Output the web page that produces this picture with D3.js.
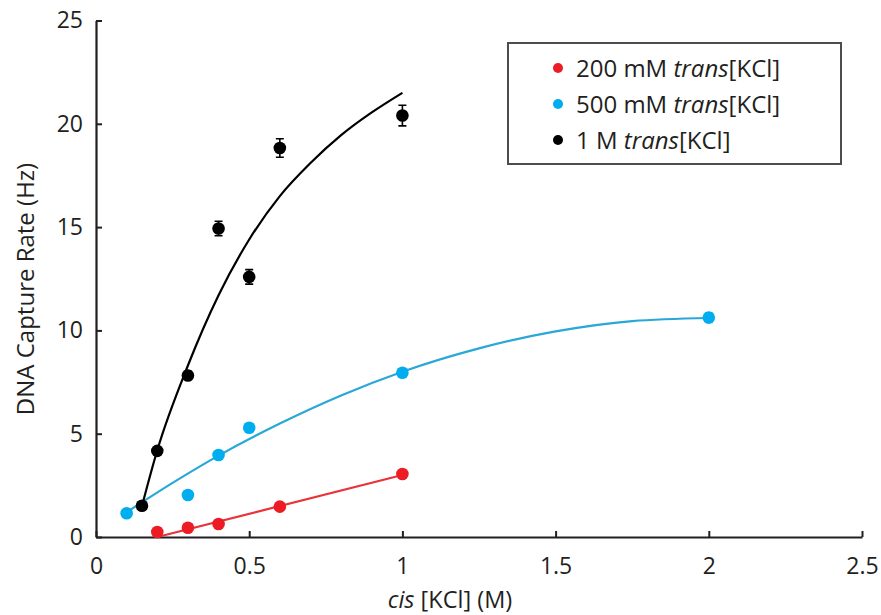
<!DOCTYPE html>
<html lang="en">
<head>
  <meta charset="utf-8">
  <title>DNA capture rate</title>
  <script src="https://d3js.org/d3.v7.min.js"></script>
  <style>
  body { margin: 0; background: #fff; }
  text { font-family: "Open Sans", "Noto Sans", sans-serif; fill: #231f20; }
  .axis path, .axis line { stroke: #231f20; }
  </style>
</head>
<body>
  <script>
  // measured points, cis [KCl] (M) vs capture rate (Hz)
  var redX = [0.2, 0.3, 0.4, 0.6, 1.0];
  var redY = [0.24, 0.45, 0.63, 1.47, 3.05];
  var redErr = [0.05, 0.05, 0.05, 0.08, 0.1];

  var blueX = [0.1, 0.3, 0.4, 0.5, 1.0, 2.0];
  var blueY = [1.15, 2.03, 3.97, 5.29, 7.95, 10.62];
  var blueErr = [0.05, 0.08, 0.1, 0.12, 0.15, 0.22];

  var blackX = [0.15, 0.2, 0.3, 0.4, 0.5, 0.6, 1.0];
  var blackY = [1.51, 4.17, 7.82, 14.93, 12.59, 18.83, 20.4];
  var blackErr = [0.1, 0.15, 0.2, 0.35, 0.35, 0.45, 0.5];

  // fit curves
  var redFitX = [0.2, 1.0];
  var redFitY = [0.0, 3.0];
  var blueFitX = [0.1, 0.25, 0.4, 0.6, 0.8, 1.0, 1.25, 1.5, 1.75, 2.0];
  var blueFitY = [1.2, 2.62, 3.94, 5.49, 6.85, 8.0, 9.13, 9.95, 10.45, 10.6];
  var blackFitX = [0.15, 0.2, 0.3, 0.4, 0.5, 0.6, 0.7, 0.8, 0.9, 1.0];
  var blackFitY = [1.5, 4.2, 8.3, 11.7, 14.4, 16.5, 18.1, 19.45, 20.55, 21.5];

  var legendNames = ["200 mM", "500 mM", "1 M"];
  var xTicks = [0, 0.5, 1, 1.5, 2, 2.5];
  var yTicks = [0, 5, 10, 15, 20, 25];

  var width = 881;
  var height = 615;
  var dotColor = ["#ed1c24", "#00aeef", "#000000"];
  var lineColor = ["#e8333a", "#29a8d8", "#000000"];

  var svg = d3.select("body")
    .append("svg")
    .attr("width", width)
    .attr("height", height);

  var x = d3.scaleLinear().domain([0, 2.5]).range([96, 862]);
  var y = d3.scaleLinear().domain([0, 25]).range([537, 20.5]);

  // axes, ticks pointing inward
  var xAxis = svg.append("g")
    .attr("class", "axis")
    .attr("transform", "translate(0," + y(0) + ")")
    .call(d3.axisBottom(x).tickValues(xTicks).tickSizeInner(-6).tickSizeOuter(0)
      .tickFormat(function(d) { return d; }));
  xAxis.select(".domain").attr("stroke-width", 2.2);
  xAxis.selectAll(".tick line").attr("stroke-width", 2);
  xAxis.selectAll(".tick text").attr("font-size", 23).attr("dy", "1.0em").attr("y", 14);

  var yAxis = svg.append("g")
    .attr("class", "axis")
    .attr("transform", "translate(" + x(0) + ",0)")
    .call(d3.axisLeft(y).tickValues(yTicks).tickSizeInner(-6).tickSizeOuter(0));
  yAxis.select(".domain").attr("stroke-width", 2.2);
  yAxis.selectAll(".tick text").attr("font-size", 23).attr("x", -13);
  yAxis.selectAll(".tick line").attr("stroke-width", 2);

  // axis titles
  svg.append("text")
    .attr("transform", "translate(34,289) rotate(-90)")
    .attr("text-anchor", "middle")
    .attr("font-size", 24)
    .text("DNA Capture Rate (Hz)");

  var xt = svg.append("text")
    .attr("x", 450)
    .attr("y", 608)
    .attr("text-anchor", "middle")
    .attr("font-size", 23.5);
  xt.append("tspan").attr("font-style", "italic").text("cis");
  xt.append("tspan").text(" [KCl] (M)");

  // fit lines
  var line = d3.line().curve(d3.curveMonotoneX)
    .x(function(d) { return x(d[0]); })
    .y(function(d) { return y(d[1]); });

  var fits = [d3.zip(redFitX, redFitY), d3.zip(blueFitX, blueFitY), d3.zip(blackFitX, blackFitY)];
  svg.append("g").selectAll("path")
    .data(fits)
    .enter()
    .append("path")
    .attr("fill", "none")
    .attr("stroke", function(d, i) { return lineColor[i]; })
    .attr("stroke-width", 2.2)
    .attr("d", line);

  // points with error bars
  var series = [
    d3.zip(redX, redY, redErr),
    d3.zip(blueX, blueY, blueErr),
    d3.zip(blackX, blackY, blackErr)
  ];

  series.forEach(function(pts, i) {
    var g = svg.append("g").attr("stroke", dotColor[i]).attr("fill", dotColor[i]);
    g.selectAll(".err")
      .data(pts)
      .enter()
      .append("path")
      .attr("stroke-width", 1.6)
      .attr("fill", "none")
      .attr("d", function(d) {
        var cx = x(d[0]), y1 = y(d[1] + d[2]), y2 = y(d[1] - d[2]);
        return "M" + (cx - 4) + "," + y1 + "H" + (cx + 4) +
          "M" + cx + "," + y1 + "V" + y2 +
          "M" + (cx - 4) + "," + y2 + "H" + (cx + 4);
      });
    g.selectAll("circle")
      .data(pts)
      .enter()
      .append("circle")
      .attr("stroke", "none")
      .attr("cx", function(d) { return x(d[0]); })
      .attr("cy", function(d) { return y(d[1]); })
      .attr("r", 6.3);
  });

  // legend
  var legend = svg.append("g");
  legend.append("rect")
    .attr("x", 508).attr("y", 43)
    .attr("width", 333).attr("height", 121)
    .attr("fill", "#fff")
    .attr("stroke", "#4d4d4f")
    .attr("stroke-width", 2);

  var rows = legend.selectAll(".row")
    .data(legendNames)
    .enter()
    .append("g")
    .attr("transform", function(d, i) { return "translate(558," + (68 + i * 36) + ")"; });
  rows.append("circle")
    .attr("r", 5)
    .attr("fill", function(d, i) { return dotColor[i]; });
  var lt = rows.append("text")
    .attr("x", 18)
    .attr("dy", "0.36em")
    .attr("font-size", 24);
  lt.append("tspan").text(function(d) { return d + " "; });
  lt.append("tspan").attr("font-style", "italic").text("trans");
  lt.append("tspan").text("[KCl]");
  </script>
</body>
</html>
